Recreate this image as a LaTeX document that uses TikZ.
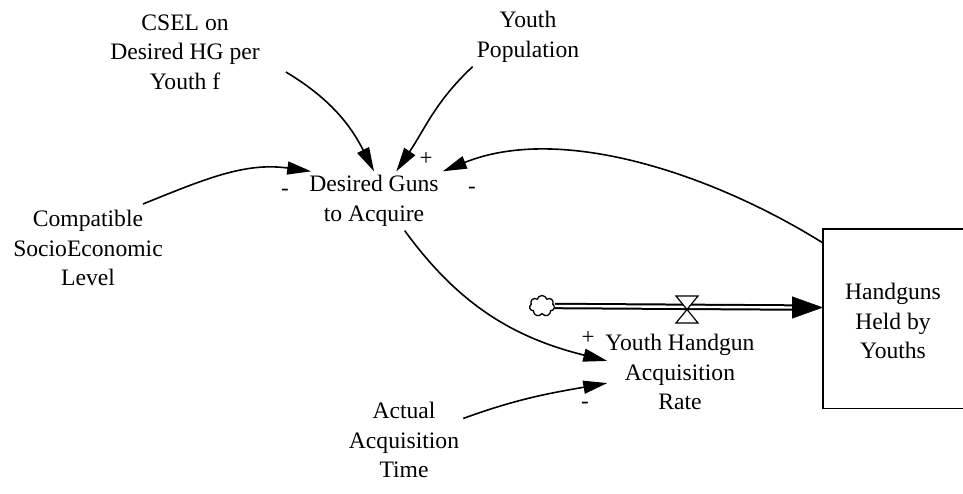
\documentclass[tikz,border=0pt]{standalone}
\usepackage{fontspec}
\setmainfont{Liberation Serif}
\usetikzlibrary{positioning,arrows.meta,shapes.symbols}

\begin{document}
\begin{tikzpicture}[x=1pt,y=1pt,
    var/.style={align=center,inner sep=4pt,
		font=\fontsize{23.6}{29.5}\selectfont},
    sign/.style={inner sep=0pt,font=\fontsize{23}{23}\selectfont},
    link/.style={line width=1.6pt,-{Triangle[length=24pt,width=13pt]}},
% Stock and flow styles
    stockbox/.style={rectangle,anchor=north west,
		minimum width=140pt,minimum height=179pt},
    stockline/.style={line width=1.6pt},
    pipe/.style={double,line width=2pt,double distance=2.4pt},
    flowtip/.style={line width=0.4pt,-{Triangle[length=31pt,width=22pt]}},
    source/.style={cloud,draw,cloud puffs=7,aspect=1.2,line width=1.3pt,
		minimum width=25pt,minimum height=21pt,inner sep=0pt}
    ]
    \useasboundingbox (0,0) rectangle (963,493);

    % Place nodes
    \node [var] (csel) at (185,441) {CSEL on\\Desired HG per\\Youth f};
    \node [var] (pop) at (528,456) {Youth\\Population};
    \node [var] (desired) at (374,292) {Desired Guns\\to Acquire};
    \node [var] (compat) at (88,245) {Compatible\\SocioEconomic\\Level};
    \node [var] (rate) at (680,121) {Youth Handgun\\Acquisition\\Rate};
    \node [var] (actual) at (404,53) {Actual\\Acquisition\\Time};

    \node [stockbox] (stock) at (823,264) {};
    \node [var] (held) at (893,172) {Handguns\\Held by\\Youths};

    \node [source] (cloud) at (542,187) {};
    \coordinate (valve) at (687,183.5);
    \coordinate (pipeend) at (792,185.5);

    % Polarity signs
    \node [sign] (s1) at (426,334) {+};
    \node [sign] (s2) at (472,303) {-};
    \node [sign] (s3) at (285,301) {-};
    \node [sign] (s4) at (588,155) {+};
    \node [sign] (s5) at (585,88) {-};

    % Draw stock (open to the right)
    \draw [stockline] (stock.north east) -- (stock.north west)
        -- (stock.south west) -- (stock.south east);

    % Draw flow
    \draw [pipe] (cloud.east) -- (pipeend);
    \draw [flowtip] (pipeend) -- (stock.west |- pipeend);
    \filldraw [fill=white,line width=1.2pt] (valve) -- ++(-11,13.5) -- ++(22,0) -- cycle;
    \filldraw [fill=white,line width=1.2pt] (valve) -- ++(-11,-13.5) -- ++(22,0) -- cycle;

    % Draw edges
    \draw [link] ([shift={(22pt,-20pt)}]csel.east) to[out=-31,in=117] (desired.north);
    \draw [link] (pop.south west) to[out=-137,in=56] (desired.53);
    \draw [link] ([yshift=-14pt]stock.north west) to[out=148,in=22,looseness=0.85] (desired.north east);
    \draw [link] ([shift={(55pt,2pt)}]compat.north) to[out=22,in=172] ([xshift=6pt]desired.north west);
    \draw [link] (desired.-44) to[out=-54,in=166] ([xshift=6pt]rate.172);
    \draw [link] (actual.20) to[out=20,in=190] ([xshift=6pt]rate.188);

\end{tikzpicture}
\end{document}
